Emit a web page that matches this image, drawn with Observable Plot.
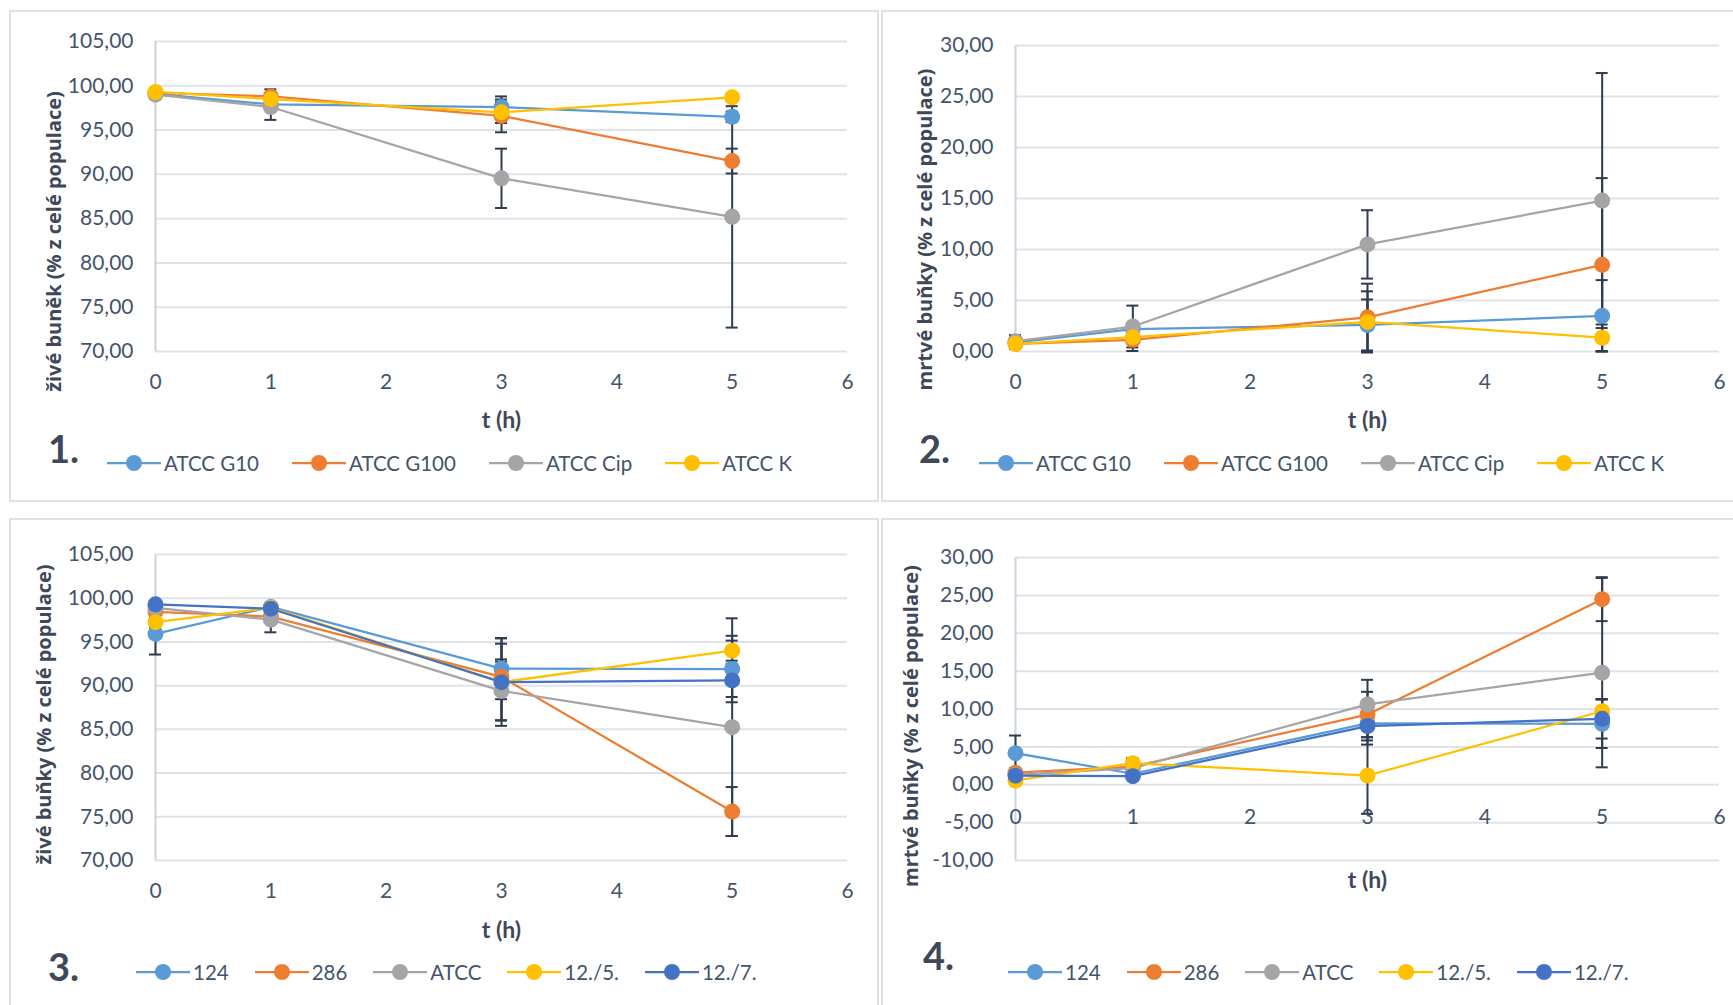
<!DOCTYPE html>
<html>
<head>
<meta charset="utf-8">
<script src="https://cdn.jsdelivr.net/npm/d3@7"></script>
<script src="https://cdn.jsdelivr.net/npm/@observablehq/plot@0.6"></script>
<style>
  html, body { margin: 0; padding: 0; background: #fff; }
  body { width: 1733px; height: 1005px; overflow: hidden; position: relative; font-family: Lato, "Open Sans", sans-serif; }
  .panel { position: absolute; border: 2px solid #DEE2E8; box-sizing: border-box; }
  .chart { position: absolute; }
  .chart svg { display: block; max-width: none; }
  .num { position: absolute; font-weight: bold; font-size: 38px; color: #3E4858; line-height: 1; transform: translateY(-50%); }
  .legend { position: absolute; display: flex; align-items: center; transform: translateY(-50%); font-size: 20.5px; color: #44546A; white-space: nowrap; }
  .legend .item { display: flex; align-items: center; }
  .legend .item svg { display: block; margin-right: 3px; }
</style>
</head>
<body>
<script>
// ---------- data ----------
const hours = [0, 1, 3, 5];
const xTicks = [0, 1, 2, 3, 4, 5, 6];
const liveTicks = [70, 75, 80, 85, 90, 95, 100, 105];
const deadTicksA = [0, 5, 10, 15, 20, 25, 30];
const deadTicksB = [-10, -5, 0, 5, 10, 15, 20, 25, 30];

const atccSeries = ["ATCC G10", "ATCC G100", "ATCC Cip", "ATCC K"];
const strainSeries = ["124", "286", "ATCC", "12./5.", "12./7."];
const atccColors = ["#5B9BD5", "#ED7D31", "#A5A5A5", "#FFC000"];
const strainColors = ["#5B9BD5", "#ED7D31", "#A5A5A5", "#FFC000", "#4472C4"];

// Panel 1: živé buňky, ATCC treatments (values at t = 0,1,3,5)
const live1Values = [
  [99.1, 97.9, 97.6, 96.5],
  [99.2, 98.8, 96.6, 91.5],
  [99.0, 97.6, 89.55, 85.2],
  [99.3, 98.5, 97.0, 98.7]
];
const live1Errors = [
  [0.3, 0.4, 1.2, 0.6],
  [0.2, 0.8, 1.85, 1.4],
  [0.3, 1.45, 3.35, 12.5],
  [0.2, 0.4, 1.2, 0.4]
];

// Panel 2: mrtvé buňky, ATCC treatments
const dead1Values = [
  [0.9, 2.2, 2.6, 3.5],
  [0.75, 1.15, 3.35, 8.5],
  [1.0, 2.45, 10.5, 14.8],
  [0.75, 1.4, 2.9, 1.35]
];
const dead1Errors = [
  [0.6, 0.4, 2.5, 3.5],
  [0.5, 1.1, 3.3, 8.5],
  [0.6, 2.05, 3.35, 12.5],
  [0.4, 0.6, 3.0, 1.3]
];

// Panel 3: živé buňky, strains
const live2Values = [
  [95.93, 99.0, 91.95, 91.9],
  [98.45, 97.9, 91.0, 75.6],
  [98.9, 97.55, 89.4, 85.25],
  [97.26, 98.9, 90.4, 94.0],
  [99.3, 98.8, 90.4, 90.6]
];
const live2Errors = [
  [2.37, 0.3, 3.5, 3.8],
  [0.4, 0.5, 2.0, 2.8],
  [0.3, 1.45, 3.35, 12.45],
  [0.6, 0.3, 4.4, 1.15],
  [0.3, 0.3, 5.0, 1.9]
];

// Panel 4: mrtvé buňky, strains
const dead2Values = [
  [4.17, 1.45, 8.1, 8.05],
  [1.6, 2.4, 9.27, 24.5],
  [1.3, 2.2, 10.6, 14.8],
  [0.56, 2.85, 1.22, 9.7],
  [1.2, 1.13, 7.75, 8.7]
];
const dead2Errors = [
  [2.33, 0.4, 2.8, 3.2],
  [0.6, 0.5, 3.0, 2.9],
  [0.7, 1.3, 3.25, 12.5],
  [0.4, 0.6, 5.06, 1.6],
  [0.5, 0.3, 1.9, 2.6]
];

const liveTitleA = "živé buněk (% z celé populace)";
const liveTitleB = "živé buňky (% z celé populace)";
const deadTitle = "mrtvé buňky (% z celé populace)";
const xTitle = "t (h)";

// ---------- drawing ----------
const tickColor = "#44546A";
const errColor = "#2F3B4F";
const fmt = d => d.toFixed(2).replace(".", ",");

function rowsOf(series, values, errors) {
  const rows = [];
  series.forEach((s, i) => hours.forEach((t, j) => rows.push({s, t, v: values[i][j], e: errors[i][j]})));
  return rows;
}

function addBox(cls, left, top, width, height) {
  const d = document.createElement("div");
  d.className = cls;
  Object.assign(d.style, {left: left + "px", top: top + "px", width: width + "px", height: height + "px"});
  document.body.appendChild(d);
  return d;
}

function chart(cfg) {
  const rows = rowsOf(cfg.series, cfg.values, cfg.errors);
  const svg = Plot.plot({
    width: cfg.width, height: cfg.height,
    marginLeft: cfg.ml, marginRight: cfg.mr, marginTop: cfg.mt, marginBottom: cfg.mb,
    style: {background: "transparent", color: tickColor, fontFamily: "Lato, sans-serif", overflow: "visible"},
    x: {domain: [0, 6], axis: null},
    y: {domain: cfg.yDomain, axis: null},
    color: {domain: cfg.series, range: cfg.colors},
    marks: [
      Plot.ruleY(cfg.yTicks, {stroke: "#DFE3E9", strokeWidth: 2}),
      Plot.ruleX([0], {stroke: "#CCD3DC", strokeWidth: 2}),
      Plot.axisY({ticks: cfg.yTicks, tickSize: 0, tickPadding: 22, tickFormat: fmt, fontSize: 21, label: null}),
      Plot.text(xTicks, {x: d => d, y: () => cfg.base, dy: cfg.xLabelDy, fontSize: 21, fill: tickColor}),
      Plot.line(rows, {x: "t", y: "v", z: "s", stroke: "s", strokeWidth: 2.25}),
      Plot.ruleX(rows, {x: "t", y1: d => d.v - d.e, y2: d => d.v + d.e, stroke: errColor, strokeWidth: 2}),
      Plot.ruleY(rows, {y: d => d.v + d.e, x1: "t", x2: "t", insetLeft: -6, insetRight: -6, stroke: errColor, strokeWidth: 2}),
      Plot.ruleY(rows, {y: d => d.v - d.e, x1: "t", x2: "t", insetLeft: -6, insetRight: -6, stroke: errColor, strokeWidth: 2}),
      Plot.dot(rows, {x: "t", y: "v", fill: "s", r: 8}),
      Plot.text([xTitle], {frameAnchor: "bottom", dy: cfg.xTitleDy, fontSize: 23, fontWeight: "bold", fill: "#3E4858", textAnchor: "middle", lineAnchor: "middle"}),
      Plot.text([cfg.yTitle], {frameAnchor: "left", dx: cfg.yTitleDx, dy: cfg.yTitleDy, rotate: -90, fontSize: 20, fontWeight: "bold", fill: "#3E4858", textAnchor: "middle", lineAnchor: "middle", fontFamily: "'Open Sans', sans-serif"})
    ]
  });
  const holder = addBox("chart", cfg.left, cfg.top, cfg.width, cfg.height);
  holder.appendChild(svg);
}

function legend(series, colors, left, top, gap) {
  const d = document.createElement("div");
  d.className = "legend";
  d.style.left = left + "px";
  d.style.top = top + "px";
  series.forEach((s, i) => {
    const it = document.createElement("span");
    it.className = "item";
    if (i < series.length - 1) it.style.marginRight = gap + "px";
    it.innerHTML = `<svg width="54" height="20"><line x1="0" x2="54" y1="10" y2="10" stroke="${colors[i]}" stroke-width="2.25"/><circle cx="27" cy="10" r="8" fill="${colors[i]}"/></svg><span>${s}</span>`;
    d.appendChild(it);
  });
  document.body.appendChild(d);
}

function numLabel(text, left, top) {
  const d = document.createElement("div");
  d.className = "num";
  d.style.left = left + "px";
  d.style.top = top + "px";
  d.textContent = text;
  document.body.appendChild(d);
}

// panel frames
addBox("panel", 9, 10, 870, 492);
addBox("panel", 881, 10, 900, 492);
addBox("panel", 9, 518, 870, 600);
addBox("panel", 881, 518, 900, 600);

chart({left: 0, top: 0, width: 870, height: 480, ml: 155, mr: 23, mt: 41, mb: 129,
  yDomain: [70, 105], yTicks: liveTicks, base: 70, xLabelDy: 31, xTitleDy: 69,
  series: atccSeries, colors: atccColors, values: live1Values, errors: live1Errors,
  yTitle: liveTitleA, yTitleDx: -101, yTitleDy: 45});

chart({left: 881, top: 0, width: 852, height: 480, ml: 134, mr: 14, mt: 45, mb: 129,
  yDomain: [0, 30], yTicks: deadTicksA, base: 0, xLabelDy: 31, xTitleDy: 69,
  series: atccSeries, colors: atccColors, values: dead1Values, errors: dead1Errors,
  yTitle: deadTitle, yTitleDx: -90, yTitleDy: 31});

chart({left: 0, top: 510, width: 870, height: 440, ml: 155, mr: 23, mt: 44, mb: 90,
  yDomain: [70, 105], yTicks: liveTicks, base: 70, xLabelDy: 31, xTitleDy: 70,
  series: strainSeries, colors: strainColors, values: live2Values, errors: live2Errors,
  yTitle: liveTitleB, yTitleDx: -111, yTitleDy: 7});

chart({left: 881, top: 510, width: 852, height: 440, ml: 134, mr: 14, mt: 47, mb: 90,
  yDomain: [-10, 30], yTicks: deadTicksB, base: 0, xLabelDy: 33, xTitleDy: 20,
  series: strainSeries, colors: strainColors, values: dead2Values, errors: dead2Errors,
  yTitle: deadTitle, yTitleDx: -104, yTitleDy: 17});

legend(atccSeries, atccColors, 107, 463, 33);
legend(atccSeries, atccColors, 979, 463, 33);
legend(strainSeries, strainColors, 136, 972, 26);
legend(strainSeries, strainColors, 1008, 972, 26);

numLabel("1.", 48, 448);
numLabel("2.", 919, 448);
numLabel("3.", 48, 966);
numLabel("4.", 923, 955);
</script>
</body>
</html>
